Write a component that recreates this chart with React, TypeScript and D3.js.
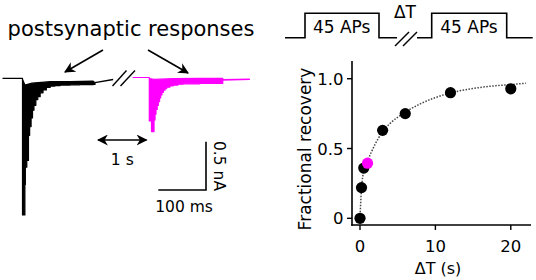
import React from "react";
import * as d3 from "d3";

// ---------- Right panel data ----------
const dtValues = [0, 0.2, 0.5, 1, 3, 6, 12, 20];
const recovery = [0, 0.22, 0.36, 0.395, 0.63, 0.75, 0.9, 0.928];
const highlightIndex = 3;
const fitT = [0, 0.1, 0.2, 0.5, 1, 2, 3, 4, 6, 8, 10, 12, 15, 18, 20, 22];
const fitY = [0, 0.12, 0.21, 0.34, 0.41, 0.53, 0.62, 0.68, 0.76, 0.82, 0.865, 0.898, 0.93, 0.95, 0.958, 0.968];
const xTicks = [0, 10, 20];
const yTicks = [0, 0.5, 1];
const yTickLabels = ["0", "0.5", "1.0"];

// ---------- Left panel trace data (ms from train onset, nA) ----------
const blackPeakT = [-41, -0.5, 0, 5, 6, 9, 12.5, 15, 18, 21, 24, 28, 32, 37, 43, 50, 58, 68, 79, 100, 120, 148, 152];
const blackPeakA = [0, 0, 1.415, 1.1, 0.92, 0.85, 0.59, 0.5, 0.41, 0.33, 0.28, 0.22, 0.19, 0.15, 0.12, 0.095, 0.08, 0.075, 0.07, 0.068, 0.066, 0.064, 0.045];
const blackBaseT = [-41, -0.5, 0, 5, 20, 58, 100, 148, 152];
const blackBaseA = [0, 0, 0.01, 0.07, 0.05, 0.035, 0.033, 0.03, 0.045];
const blackTailT = [152, 190];
const blackTailA = [0.045, 0.012];

const magPeakT = [-34, -0.5, 0, 4.6, 9.9, 12, 14, 16.5, 18.9, 21.5, 23.9, 26.5, 29.4, 33, 36.5, 43, 50, 60, 71, 106, 154];
const magPeakA = [0, 0, 0.45, 0.56, 0.44, 0.38, 0.33, 0.29, 0.25, 0.21, 0.18, 0.155, 0.13, 0.115, 0.1, 0.088, 0.078, 0.07, 0.065, 0.062, 0.06];
const magBaseT = [-34, -0.5, 0, 10, 50, 106, 154];
const magBaseA = [0, 0, 0.01, 0.02, 0.012, 0.01, 0.01];
const magTailT = [154, 211];
const magTailA = [0.025, 0.018];

const FONT = "DejaVu Sans";

function tracePath(
  peakT: number[], peakA: number[], baseT: number[], baseA: number[],
  x: d3.ScaleLinear<number, number>, y: d3.ScaleLinear<number, number>
) {
  const lowerLine = d3
    .line<number>()
    .x((_, i) => x(peakT[i]))
    .y((d) => y(d))
    .curve(d3.curveStepAfter);
  const upperPts = baseT.map((t, i) => [x(t), y(baseA[i])] as [number, number]).reverse();
  const upperLine = d3.line<[number, number]>();
  const lower = lowerLine(peakA) || "";
  const upper = (upperLine(upperPts) || "").replace(/^M/, "L");
  return lower + upper + "Z";
}

export default function App() {
  // ---------- Right panel scales ----------
  const xs = d3.scaleLinear().domain([-1.06, 22.68]).range([352, 531]);
  const ys = d3.scaleLinear().domain([-0.048, 1.127]).range([225, 61]);
  const fitLine = d3
    .line<number>()
    .x((_, i) => xs(fitT[i]))
    .y((d) => ys(d))
    .curve(d3.curveMonotoneX);

  // ---------- Left panel scales ----------
  const msToPx = 47.7 / 100;
  const nAToPx = 48.3 / 0.5;
  const xBlack = d3.scaleLinear().domain([0, 100]).range([22.5, 22.5 + 100 * msToPx]);
  const yBlack = d3.scaleLinear().domain([0, 1]).range([78.3, 78.3 + nAToPx]);
  const xMag = d3.scaleLinear().domain([0, 100]).range([149.3, 149.3 + 100 * msToPx]);
  const yMag = d3.scaleLinear().domain([0, 1]).range([77.5, 77.5 + nAToPx]);

  const blackArea = tracePath(blackPeakT, blackPeakA, blackBaseT, blackBaseA, xBlack, yBlack);
  const magArea = tracePath(magPeakT, magPeakA, magBaseT, magBaseA, xMag, yMag);

  // scale bar: 100 ms horizontal, 0.5 nA vertical, corner at (206,190)
  const sbX1 = 206 - 100 * msToPx;
  const sbY1 = 190 - 0.5 * nAToPx;

  return (
    <svg
      width={536}
      height={280}
      style={{ position: "absolute", left: 0, top: 0, background: "#fff" }}
      fontFamily={FONT}
    >
      <defs>
        <marker id="ah" viewBox="0 0 10 10" refX="9" refY="5" markerWidth="11" markerHeight="11"
          markerUnits="userSpaceOnUse" orient="auto-start-reverse">
          <path d="M0,0 L10,5 L0,10 L3,5 Z" fill="#000" />
        </marker>
      </defs>

      {/* ---------- Left panel ---------- */}
      <text x={131} y={36} fontSize={21} textAnchor="middle">postsynaptic responses</text>
      <line x1={103} y1={50} x2={65} y2={72} stroke="#000" strokeWidth={1.6} markerEnd="url(#ah)" />
      <line x1={148} y1={50} x2={188} y2={73} stroke="#000" strokeWidth={1.6} markerEnd="url(#ah)" />

      <path d={blackArea} fill="#000" stroke="#000" strokeWidth={1.2} strokeLinejoin="round" />
      <path
        d={d3.line<number>().x((_, i) => xBlack(blackTailT[i])).y((d) => yBlack(d))(blackTailA) || ""}
        fill="none" stroke="#000" strokeWidth={1.4}
      />
      <path d={magArea} fill="#ff00ff" stroke="#ff00ff" strokeWidth={1.2} strokeLinejoin="round" />
      <path
        d={d3.line<number>().x((_, i) => xMag(magTailT[i])).y((d) => yMag(d))(magTailA) || ""}
        fill="none" stroke="#ff00ff" strokeWidth={1.6}
      />
      {/* break slashes */}
      <line x1={112.5} y1={86} x2={126.5} y2={70.5} stroke="#000" strokeWidth={1.4} />
      <line x1={120.5} y1={86} x2={135} y2={70.5} stroke="#000" strokeWidth={1.4} />

      {/* 1 s double arrow */}
      <line x1={98} y1={140} x2={146.5} y2={140} stroke="#000" strokeWidth={1.6}
        markerStart="url(#ah)" markerEnd="url(#ah)" />
      <text x={122.3} y={165} fontSize={15.5} textAnchor="middle">1 s</text>

      {/* scale bar */}
      <path d={`M${sbX1},190 H206 V${sbY1}`} fill="none" stroke="#000" strokeWidth={1.6} />
      <text x={184} y={211.5} fontSize={15.5} textAnchor="middle">100 ms</text>
      <text fontSize={15.5} textAnchor="middle" transform="translate(213.5,166) rotate(90)">0.5 nA</text>

      {/* ---------- Right panel: schematic ---------- */}
      <path d="M285,37.7 H305 V13.3 H379 V37.7 H397" fill="none" stroke="#000" strokeWidth={1.6} />
      <path d="M417,37.7 H431.7 V13.3 H506.7 V37.7 H532.7" fill="none" stroke="#000" strokeWidth={1.6} />
      <line x1={395} y1={46} x2={409} y2={32} stroke="#000" strokeWidth={1.4} />
      <line x1={403} y1={46} x2={417} y2={32} stroke="#000" strokeWidth={1.4} />
      <text x={341.7} y={33} fontSize={17} textAnchor="middle">45 APs</text>
      <text x={469} y={33} fontSize={17} textAnchor="middle">45 APs</text>
      <text x={405} y={18} fontSize={17} textAnchor="middle">ΔT</text>

      {/* ---------- Right panel: plot ---------- */}
      <path d={fitLine(fitY) || ""} fill="none" stroke="#444" strokeWidth={1.5} strokeDasharray="1.5,1.5" />
      {dtValues.map((t, i) => (
        <circle key={i} cx={xs(t)} cy={ys(recovery[i])} r={5.6}
          fill={i === highlightIndex ? "#ff00ff" : "#000"} />
      ))}

      <line x1={352} y1={61} x2={352} y2={225.8} stroke="#000" strokeWidth={1.6} />
      <line x1={351.2} y1={225} x2={531} y2={225} stroke="#000" strokeWidth={1.6} />
      {yTicks.map((v, i) => (
        <g key={v}>
          <line x1={347} x2={352} y1={ys(v)} y2={ys(v)} stroke="#000" strokeWidth={1.4} />
          <text x={343.5} y={ys(v) + 6} fontSize={16.5} textAnchor="end">{yTickLabels[i]}</text>
        </g>
      ))}
      {xTicks.map((v) => (
        <g key={v}>
          <line x1={xs(v)} x2={xs(v)} y1={225} y2={230} stroke="#000" strokeWidth={1.4} />
          <text x={xs(v)} y={251.5} fontSize={16.5} textAnchor="middle">{v}</text>
        </g>
      ))}
      <text fontSize={17} textAnchor="middle" transform="translate(311,149) rotate(-90)">Fractional recovery</text>
      <text x={438} y={274} fontSize={16} textAnchor="middle">ΔT (s)</text>
    </svg>
  );
}
